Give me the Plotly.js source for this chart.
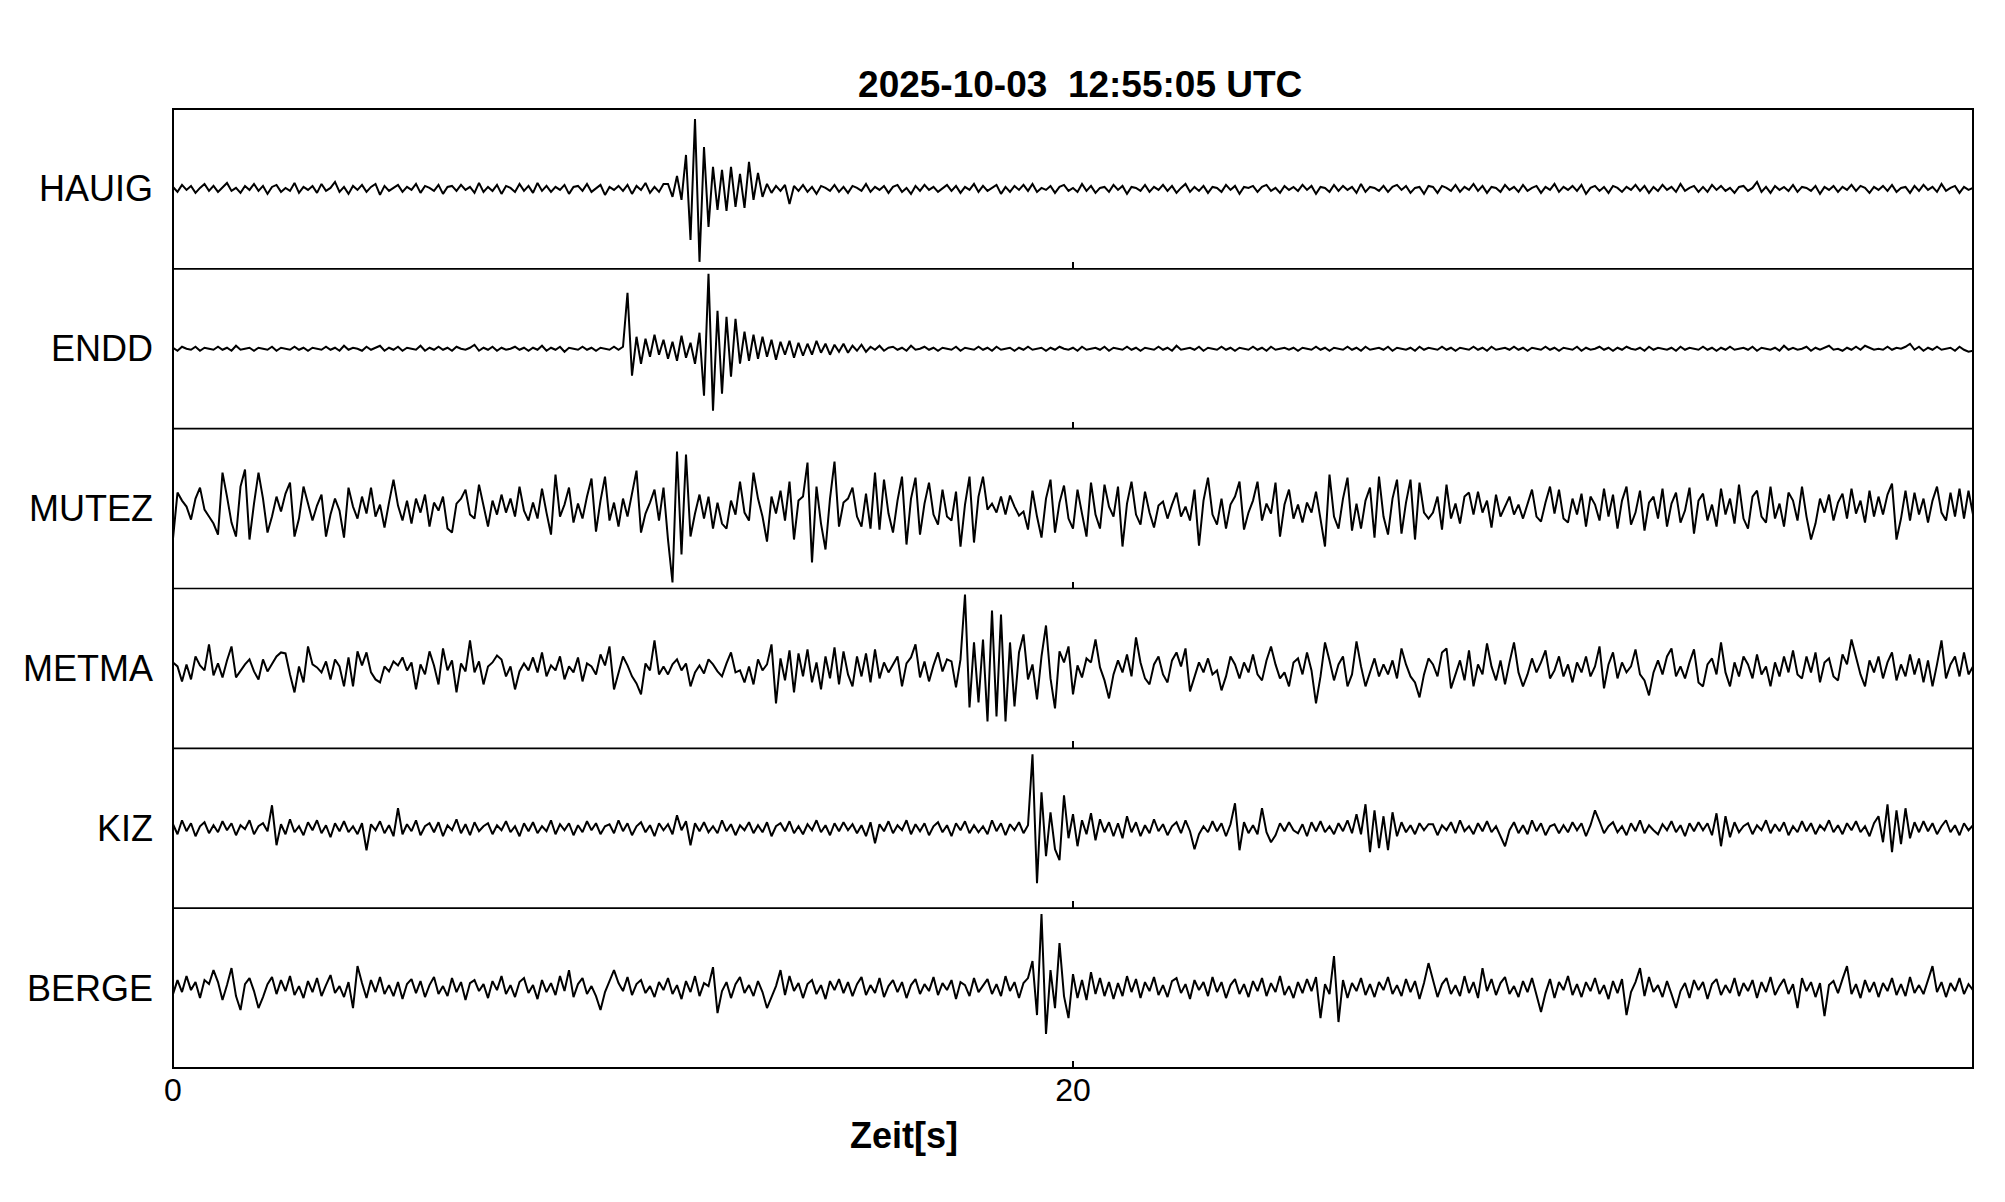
<!DOCTYPE html>
<html>
<head>
<meta charset="utf-8">
<script src="https://cdn.plot.ly/plotly-3.0.1.min.js"></script>
<style>html,body{margin:0;padding:0;background:#fff;}#chart{width:2005px;height:1202px;}</style>
</head>
<body>
<div id="chart"></div>
<script>
// ---- chart data (values in display units) ----
const chartTitle = "2025-10-03  12:55:05 UTC";
const xAxisTitle = "Zeit[s]";
const stations = ["HAUIG", "ENDD", "MUTEZ", "METMA", "KIZ", "BERGE"];
const xTickValues = [0, 20];
const xTickLabels = ["0", "20"];
const startTime = 0;        // s
const sampleInterval = 0.1; // s

const HAUIG = [
 2,-3,4,-1,3,-4,1,5,-2,3,
 -3,2,6,-2,1,-4,3,-1,5,-2,
 3,-5,2,4,-3,1,-2,6,-4,2,
 -1,3,-4,5,-2,1,7,-3,2,-5,
 3,-1,4,-3,2,5,-6,3,-2,1,
 4,-3,2,-1,5,-4,3,1,-2,4,
 -5,2,3,-2,4,-1,2,-4,6,-3,
 2,-2,4,-5,3,1,-3,5,-2,3,
 -4,6,-2,3,-3,2,-1,4,-5,2,
 3,-2,5,-3,1,4,-6,2,-1,3,
 -2,4,-5,3,-1,6,-4,2,-3,5,
 5,-8,13,-11,34,-51,70,-73,42,-38,
 22,-21,19,-22,22,-18,15,-19,27,-11,
 16,-8,5,-4,3,-2,4,-15,3,-2,
 4,-3,2,-5,3,1,-2,4,-3,2,
 -4,3,1,-2,5,-3,2,-1,3,-4,
 2,4,-3,1,-5,3,-2,4,-1,2,
 -3,1,4,-2,3,-4,2,-1,5,-3,
 3,-2,1,4,-5,2,-3,3,-1,4,
 -2,5,-3,1,-1,3,-4,2,4,-2,
 1,-3,5,-2,3,-4,1,2,-3,4,
 -1,3,-5,2,1,-2,4,-3,2,-1,
 4,-2,3,-4,1,5,-3,2,-2,3,
 -4,2,1,-3,4,-1,3,-5,2,1,
 3,-3,2,4,-2,1,-4,3,-1,2,
 -2,4,-1,3,-5,2,1,-3,4,-2,
 3,-1,2,-4,5,-3,2,1,-2,3,
 -3,2,4,-1,3,-4,1,2,-5,3,
 2,-4,3,1,-2,4,-3,2,-1,5,
 -2,3,-4,2,1,-3,4,-1,2,-3,
 4,-2,1,3,-4,2,-1,5,-3,2,
 -1,3,-2,4,-5,1,3,-2,2,-4,
 3,1,-3,2,-1,4,-2,3,-4,2,
 -2,4,-1,2,-3,5,-2,1,3,-3,
 2,-3,4,-1,3,-2,1,-4,2,3,
 -2,1,7,-3,2,-4,3,-1,2,-2,
 4,-3,2,1,-2,3,-5,2,-1,3,
 -3,2,-1,4,-2,3,1,-4,2,-1,
 3,-2,4,-3,1,2,-4,3,-2,4,
 -1,2,-3,5,-2,1,3,-4,2,-1,
 1
];

const ENDD = [
 1,-2,2,0,-1,2,-2,1,0,-1,
 2,-1,1,-2,3,-1,0,1,-2,1,
 0,-1,2,-2,1,0,-1,2,-1,1,
 -2,1,0,-1,2,-1,1,-2,3,-1,
 1,0,-2,2,-1,1,3,-2,1,-1,
 2,-2,1,0,-1,3,-2,1,-1,2,
 -1,1,-2,2,0,-1,1,4,-2,1,
 -1,2,-2,1,-1,0,2,-1,1,-2,
 1,-1,3,-2,1,-1,2,-3,1,0,
 -1,2,-1,1,-2,1,0,-1,2,-1,
 2,56,-27,12,-15,10,-8,14,-6,9,
 -10,7,-12,13,-9,6,-15,16,-47,75,
 -62,38,-45,32,-28,30,-15,17,-12,14,
 -10,12,-8,9,-11,7,-6,8,-9,6,
 -7,5,-6,8,-4,5,-6,4,-3,5,
 -4,3,-2,4,-3,2,-1,3,-2,1,
 2,-1,1,-2,3,-1,0,2,-1,1,
 -2,1,0,-1,2,-2,1,0,-1,2,
 -1,1,-2,2,-1,0,1,-2,1,-1,
 2,-1,0,1,-2,1,-1,2,0,-1,
 1,-2,2,-1,0,1,-1,2,-2,1,
 0,-1,2,-1,1,-2,1,0,-1,2,
 -1,1,-2,3,-1,0,1,-1,2,-2,
 1,0,-1,2,-1,1,-2,1,0,-1,
 2,-1,1,-2,2,-1,0,1,-1,1,
 -2,1,0,-1,2,-1,1,-2,1,0,
 -1,2,-1,1,-2,2,-1,0,1,-1,
 2,-2,1,0,-1,1,-2,2,-1,1,
 0,-1,2,-1,1,-2,1,0,-1,2,
 -1,1,-2,2,-1,0,1,-1,2,-1,
 1,-2,1,0,-1,2,-1,1,-2,1,
 0,-1,2,-2,1,-1,0,2,-1,1,
 -2,1,-1,2,0,-1,1,-2,2,-1,
 1,0,-1,1,-2,2,-1,1,0,-1,
 2,-1,1,-2,1,-1,2,-1,0,1,
 -1,2,-2,1,0,-1,1,-2,3,-1,
 1,-1,0,2,-2,1,-1,1,3,-1,
 0,-2,1,-1,2,-1,3,1,-1,0,
 -1,2,-1,1,0,2,5,-1,2,-2,
 1,-1,2,-1,0,1,-2,2,-1,-3,
 -2
];

const MUTEZ = [
 -30,16,8,2,-11,10,21,-1,-8,-15,
 -26,36,12,-14,-28,22,39,-31,5,36,
 10,-24,-8,12,-3,15,26,-28,-10,22,
 5,-12,3,14,-28,-6,10,-2,-29,21,
 2,-10,12,-5,21,-8,4,-19,6,29,
 3,-12,8,-15,10,-4,14,-18,6,-2,
 12,-20,-24,5,10,19,-6,-10,24,3,
 -18,8,-6,14,-4,10,-8,22,-2,-12,
 6,-10,20,-4,-26,34,-8,4,21,-14,
 5,-10,12,30,-23,8,32,-12,6,-18,
 10,-8,15,38,-24,-5,6,19,-12,21,
 -31,-74,57,-46,54,-28,-5,14,-10,12,
 -20,6,-15,-20,8,-6,27,-4,-12,36,
 10,-8,-33,12,-5,18,-12,27,-31,8,
 12,46,-54,22,-15,-41,10,47,-18,6,
 10,21,-8,-18,15,-20,36,-21,29,-5,
 -24,8,32,-36,10,31,-26,5,26,-6,
 -16,19,-8,-12,17,-38,4,32,-34,12,
 32,-1,5,-4,12,-6,13,2,-7,-3,
 -21,18,-8,-29,10,29,-24,6,23,-10,
 -20,19,-5,-28,26,-6,-20,24,2,-8,
 22,-38,5,27,-6,-16,17,-4,-19,3,
 7,-10,4,16,-8,2,-12,19,-37,8,
 31,-6,-16,10,-20,4,12,27,-21,-4,
 8,27,-12,5,-5,26,-28,4,19,-10,
 4,-14,6,-4,17,-10,-38,34,-8,-20,
 10,31,-22,5,-20,8,21,-29,32,-8,
 -26,10,29,-25,6,29,-31,26,-4,-10,
 -4,12,-21,24,-10,5,-15,12,16,-6,
 17,-4,8,-19,14,-8,2,12,-6,4,
 -10,5,19,-8,-13,6,22,-5,19,-10,
 -14,10,-6,15,-18,12,4,-12,20,-8,
 14,-20,8,22,-16,-4,18,-22,6,12,
 -10,20,-18,5,16,-14,-2,21,-25,8,
 15,-12,4,-18,20,-6,10,-15,24,-10,
 -20,12,18,-8,-14,22,-10,5,-18,16,
 8,-12,22,-8,-31,-15,10,-4,14,-12,
 6,15,-10,20,-5,8,-14,18,-8,12,
 -6,14,25,-31,-10,18,-12,16,-6,10,
 -14,8,22,-4,-12,16,-8,20,-10,18,
 -6
];

const METMA = [
 6,2,-13,4,-11,12,3,-2,24,-7,
 5,-9,8,22,-9,-2,4,9,-3,-11,
 9,-3,4,12,16,15,-6,-24,2,-14,
 22,4,1,-4,7,-11,9,2,-18,11,
 -18,17,3,16,-4,-11,-14,2,-3,7,
 3,11,-2,6,-21,4,-6,17,3,-16,
 20,-2,8,-24,5,-3,28,-4,7,-16,
 2,6,13,9,-8,2,-21,-3,5,-2,
 11,-4,16,-8,3,-2,12,-11,2,-4,
 11,-13,5,2,-6,14,3,22,-21,-4,
 12,3,-8,-15,-26,5,-2,28,-6,2,
 -6,4,9,-2,5,-18,-4,3,-5,9,
 4,-3,-8,5,16,-4,-2,-14,2,-16,
 9,-2,4,24,-35,10,-12,18,-24,15,
 -8,19,-14,6,-21,12,-10,21,-16,17,
 -6,-18,12,-8,15,-14,19,-10,6,-4,
 4,12,-18,5,11,24,-9,7,-13,3,
 16,-3,9,7,-19,9,74,-39,26,-34,
 29,-53,58,-48,54,-53,26,-38,16,34,
 -11,4,-31,12,43,-10,-40,17,6,22,
 -26,3,-9,10,6,29,1,-12,-30,-6,
 8,-4,14,-8,31,6,-10,-16,4,12,
 -6,-14,8,16,2,20,-23,-8,6,-4,
 10,-6,-2,-22,-8,12,4,-10,6,-4,
 14,-6,-12,8,22,4,-10,-4,-18,6,
 10,-6,16,-2,-35,-8,26,8,-12,4,
 12,-18,-6,27,2,-18,-4,10,-8,4,
 -6,8,-10,20,4,-8,-14,-29,-6,10,
 4,-8,16,20,-20,-6,8,-12,18,-18,
 4,-6,25,2,-12,8,-16,6,26,-4,
 -18,-6,10,-4,6,18,-10,-2,12,-8,
 4,-14,6,-4,12,-8,2,22,-20,4,
 16,-10,6,-4,2,19,-6,-12,-27,-4,
 8,-6,12,20,-8,2,-10,6,19,-14,
 -18,4,10,-6,26,-4,-18,6,-8,12,
 4,-10,14,-6,2,-18,6,-8,12,-4,
 18,-6,-10,12,-4,16,-14,6,10,-8,
 -12,14,4,29,10,-6,-18,8,-4,12,
 -10,6,16,-12,4,-8,14,-6,10,-14,
 8,-18,4,28,-10,4,12,-8,16,-6,
 2
];

const KIZ = [
 4,-6,8,-3,5,-8,2,6,-5,3,
 -4,7,-2,5,-7,3,-1,8,-6,2,
 5,-3,23,-17,4,-6,9,-4,2,-7,
 6,-2,8,-5,3,-9,5,-3,7,-4,
 2,-6,5,-22,4,-2,7,-5,3,-8,
 20,-6,4,-3,8,-7,2,5,-4,6,
 -8,3,-2,9,-5,4,-7,6,-3,2,
 5,-6,3,-2,7,-4,2,-8,5,-3,
 6,-5,2,-3,8,-6,4,-2,5,-7,
 3,-4,7,-2,5,-6,2,4,-5,8,
 -3,5,-7,2,6,-4,3,-8,5,-2,
 4,-6,13,-2,7,-17,5,-3,6,-4,
 2,-5,8,-3,4,-7,3,-2,6,-5,
 3,-4,6,-8,2,5,-3,7,-5,2,
 -6,4,-2,8,-4,3,-7,5,-3,6,
 -2,4,-5,3,-8,6,-15,4,-3,7,
 -5,3,-2,8,-6,4,-3,5,-7,2,
 6,-4,3,-8,5,-2,7,-5,3,-4,
 2,-6,8,-3,5,-7,4,-2,6,-5,
 3,74,-55,36,-28,16,-21,-32,33,-10,
 14,-18,8,-6,15,-12,9,-4,6,-8,
 5,-10,12,-4,6,-8,3,-5,9,-3,
 4,-7,2,6,-5,8,-3,-21,-6,2,
 -4,7,-3,5,-8,4,25,-22,6,-5,
 3,-6,20,-4,-14,-7,5,-3,6,-2,
 -5,4,-8,6,-3,7,-4,2,-6,5,
 -3,8,-5,14,-6,24,-24,18,-20,12,
 -22,16,-8,6,-4,3,-6,5,-2,4,
 4,-7,3,-2,6,-5,8,-3,2,-6,
 5,-3,7,-4,2,-8,-18,-2,6,-5,
 3,-6,8,-3,5,-7,2,4,-5,3,
 -4,6,-2,5,-8,3,18,7,-5,2,
 6,-4,2,-7,5,-3,8,-5,3,-2,
 -6,4,-2,7,-4,3,-8,5,-3,6,
 -2,5,-7,15,-18,12,-9,6,-4,2,
 5,-6,3,-2,8,-5,4,-3,6,-7,
 2,-4,7,-3,5,-6,3,-2,8,-4,
 3,-6,5,-2,7,-4,2,-8,5,12,
 -14,24,-24,18,-16,20,-10,6,-4,7,
 -3,5,-6,2,8,-4,3,-7,5,-2,
 3
];

const BERGE = [
 -6,8,-4,12,-2,6,-10,8,4,18,
 6,-12,3,20,-8,-22,4,10,-3,-20,
 -9,4,11,-6,8,-3,12,-7,2,-10,
 7,-4,10,-8,3,13,-5,2,-9,6,
 -20,22,5,-10,8,-4,11,-6,3,-8,
 6,-11,4,9,-5,7,-9,3,11,-6,
 2,-8,10,-4,6,-12,5,8,-3,4,
 -10,7,-2,12,-6,3,-9,6,10,-5,
 3,-11,8,-4,5,-7,12,-3,18,-9,
 4,10,-6,2,-8,-22,-4,7,18,5,
 -3,11,-7,4,8,-5,2,-9,6,-2,
 10,-6,3,-11,7,-4,12,-8,5,2,
 21,-25,-3,6,-10,4,11,-5,3,-8,
 7,-4,-20,-9,2,18,-7,12,-3,5,
 -10,4,8,-6,3,-11,7,-2,9,-5,
 6,-8,4,11,-7,3,-5,10,-9,2,
 8,-4,6,-10,3,9,-6,4,-3,11,
 -7,5,-2,8,-11,6,3,-8,10,-4,
 2,9,-6,4,-8,12,-3,6,-10,5,
 10,27,-27,74,-46,18,-20,45,-8,-30,
 14,-10,8,-12,16,-6,10,-8,6,-11,
 5,-8,12,-4,9,-10,6,-3,11,-7,
 3,-9,7,10,-5,4,-11,8,-2,6,
 -8,11,-4,6,-10,3,9,-6,4,-9,
 7,-3,10,-8,5,-4,12,-7,2,-10,
 6,-5,9,-3,11,-30,4,-6,32,-34,
 8,-10,5,-3,10,-7,4,-9,6,-2,
 11,-6,3,-8,9,-4,7,-11,5,25,
 8,-9,4,10,-6,3,-8,12,-5,6,
 -10,20,-3,9,-7,5,11,-6,2,-9,
 7,-4,10,-8,-24,-5,9,-10,6,-2,
 12,-7,4,-9,6,-3,10,-6,3,-11,
 7,-5,9,-27,-4,6,20,-8,11,-4,
 3,-9,7,-6,-20,-3,5,-10,8,-2,
 6,-11,4,9,-7,3,-5,10,-8,5,
 -3,8,-10,6,-4,11,-7,2,9,-6,
 4,-20,10,-3,6,-9,5,-28,3,7,
 -5,9,22,-6,4,-10,8,-4,6,-9,
 5,-3,10,-7,4,-8,11,-5,3,-6,
 8,22,-4,6,-9,5,-3,10,-6,4,
 -2
];

const traces = [HAUIG, ENDD, MUTEZ, METMA, KIZ, BERGE];

// ---- build figure ----
const nPanels = stations.length;
const data = [];
const layout = {
  width: 2005, height: 1202,
  margin: {l: 173, r: 32, t: 109, b: 134, pad: 0},
  paper_bgcolor: '#ffffff', plot_bgcolor: '#ffffff',
  showlegend: false,
  font: {family: '"Liberation Sans", Arial, sans-serif', color: '#000000', size: 32},
  title: {
    text: chartTitle,
    font: {family: '"Liberation Sans", Arial, sans-serif', size: 37, weight: 'bold', color: '#000000'},
    xref: 'paper', x: 0.504, xanchor: 'center',
    yref: 'container', y: 1 - 84 / 1202, yanchor: 'middle'
  },
  shapes: [],
  annotations: []
};

for (let k = 0; k < nPanels; k++) {
  const idx = k + 1;
  const xa = idx === 1 ? 'x' : 'x' + idx;
  const ya = idx === 1 ? 'y' : 'y' + idx;
  const vals = traces[k];
  const t = vals.map((_, i) => startTime + i * sampleInterval);
  data.push({
    type: 'scatter', mode: 'lines', x: t, y: vals,
    xaxis: xa, yaxis: ya,
    line: {color: '#000000', width: 2},
    hoverinfo: 'skip'
  });
  const isBottom = k === nPanels - 1;
  layout['xaxis' + (idx === 1 ? '' : idx)] = {
    domain: [0, 1], range: [0, 40], anchor: ya,
    showgrid: false, zeroline: false, showline: false,
    ticks: 'inside', ticklen: 7, tickwidth: 2, tickcolor: '#000000',
    tickmode: 'array',
    tickvals: isBottom ? xTickValues : [xTickValues[1]],
    ticktext: isBottom ? xTickLabels : [xTickLabels[1]],
    showticklabels: isBottom,
    tickfont: {size: 32, color: '#000000'},
    fixedrange: true
  };
  const top = 1 - k / nPanels, bot = 1 - (k + 1) / nPanels;
  layout['yaxis' + (idx === 1 ? '' : idx)] = {
    domain: [bot, top], range: [-80, 80], anchor: xa,
    showgrid: false, zeroline: false, showline: false,
    showticklabels: false, ticks: '', fixedrange: true
  };
  layout.annotations.push({
    text: stations[k], xref: 'paper', x: 0, xanchor: 'right', xshift: -18,
    yref: ya, y: 0, yanchor: 'middle', showarrow: false,
    font: {size: 36, color: '#000000'}
  });
  if (k > 0) {
    layout.shapes.push({type: 'line', xref: 'paper', yref: 'paper', x0: 0, x1: 1, y0: top, y1: top,
      line: {color: '#000000', width: 1.6}});
  }
}
layout.shapes.push({type: 'rect', xref: 'paper', yref: 'paper', x0: 0, x1: 1, y0: 0, y1: 1,
  line: {color: '#000000', width: 2}, fillcolor: 'rgba(0,0,0,0)'});

layout.annotations.push({
  text: xAxisTitle, xref: 'paper', x: (904 - 173) / 1800, xanchor: 'center',
  yref: 'paper', y: -(1135 - 1068) / 959, yanchor: 'middle', showarrow: false,
  font: {size: 36, weight: 'bold', color: '#000000'}
});

Plotly.newPlot('chart', data, layout, {staticPlot: true, displayModeBar: false});
</script>
</body>
</html>
